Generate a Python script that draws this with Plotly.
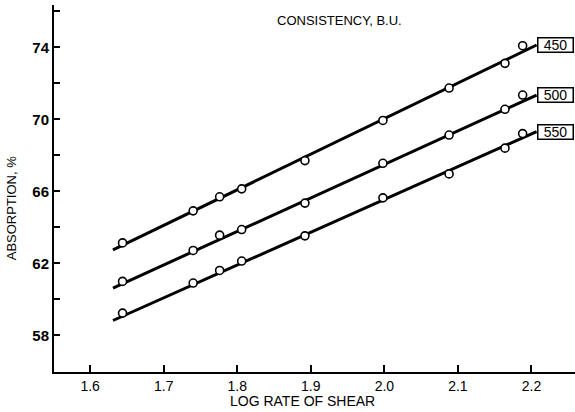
import plotly.graph_objects as go

# Log rate of shear at which absorption was measured
log_shear = [1.644, 1.740, 1.776, 1.806, 1.892, 1.998, 2.088, 2.164, 2.188]

# Water absorption (%) for each dough consistency (Brabender units)
absorption_450 = [63.14, 64.92, 65.70, 66.14, 67.71, 69.94, 71.74, 73.11, 74.09]
absorption_500 = [61.00, 62.72, 63.57, 63.88, 65.35, 67.56, 69.13, 70.56, 71.35]
absorption_550 = [59.24, 60.91, 61.61, 62.13, 63.53, 65.64, 66.97, 68.40, 69.21]

# End points of the straight lines drawn through each series
fit_x = [1.631, 2.207]
fit_450 = [62.75, 74.13]
fit_500 = [60.63, 71.35]
fit_550 = [58.83, 69.32]

consistency_labels = ["450", "500", "550"]

x_ticks = [1.6, 1.7, 1.8, 1.9, 2.0, 2.1, 2.2]
x_tick_text = ["1.6", "1.7", "1.8", "1.9", "2.0", "2.1", "2.2"]
y_ticks = [58, 62, 66, 70, 74]
y_tick_text = ["<b>58</b>", "<b>62</b>", "<b>66</b>", "<b>70</b>", "<b>74</b>"]

FONT = "Liberation Sans"

series = [
    (absorption_450, fit_450),
    (absorption_500, fit_500),
    (absorption_550, fit_550),
]

fig = go.Figure()

for values, fit in series:
    fig.add_trace(go.Scatter(
        x=fit_x, y=fit, mode="lines",
        line=dict(color="black", width=3),
        showlegend=False, hoverinfo="skip",
    ))
for values, fit in series:
    fig.add_trace(go.Scatter(
        x=log_shear, y=values, mode="markers",
        marker=dict(symbol="circle", size=8, color="white",
                    line=dict(color="black", width=1.6)),
        showlegend=False,
    ))

# Boxed consistency labels at the right end of each line
for label, (values, fit) in zip(consistency_labels, series):
    fig.add_annotation(
        x=fit_x[-1], y=fit[-1], xref="x", yref="y",
        text=label, showarrow=False, xanchor="left", yanchor="middle",
        font=dict(family=FONT, size=14, color="black"),
        bordercolor="black", borderwidth=1.5, borderpad=0,
        width=34, height=13, bgcolor="white",
    )

fig.add_annotation(
    x=0.548, y=0.958, xref="paper", yref="paper",
    text="CONSISTENCY, B.U.", showarrow=False,
    xanchor="center", yanchor="middle",
    font=dict(family=FONT, size=13, color="black"),
)

fig.add_annotation(
    x=0.477, y=-0.08, xref="paper", yref="paper",
    text="LOG RATE OF SHEAR", showarrow=False,
    xanchor="center", yanchor="middle",
    font=dict(family=FONT, size=14, color="black"),
)

fig.add_annotation(
    x=-0.08, y=0.447, xref="paper", yref="paper",
    text="ABSORPTION, %", showarrow=False, textangle=-90,
    xanchor="center", yanchor="middle",
    font=dict(family=FONT, size=13, color="black"),
)

fig.update_xaxes(
    range=[1.5508, 2.2592],
    tickvals=x_ticks, ticktext=x_tick_text,
    ticks="inside", ticklen=7, tickwidth=1.5, tickcolor="black",
    showline=True, linecolor="black", linewidth=2,
    showgrid=False, zeroline=False,
    tickfont=dict(family=FONT, size=14, color="black"),
)
fig.update_yaxes(
    range=[55.97, 76.35],
    tickvals=y_ticks, ticktext=y_tick_text,
    ticks="inside", ticklen=6, tickwidth=1.5, tickcolor="black",
    minor=dict(dtick=2, tick0=56, ticks="inside", ticklen=6,
               tickwidth=1.5, tickcolor="black"),
    showline=True, linecolor="black", linewidth=2,
    showgrid=False, zeroline=False,
    tickfont=dict(family=FONT, size=15, color="black"),
)

fig.update_layout(
    width=575, height=412,
    margin=dict(l=54, r=0, t=5, b=40),
    paper_bgcolor="white", plot_bgcolor="white",
    showlegend=False,
)

fig.write_html("out.html")
